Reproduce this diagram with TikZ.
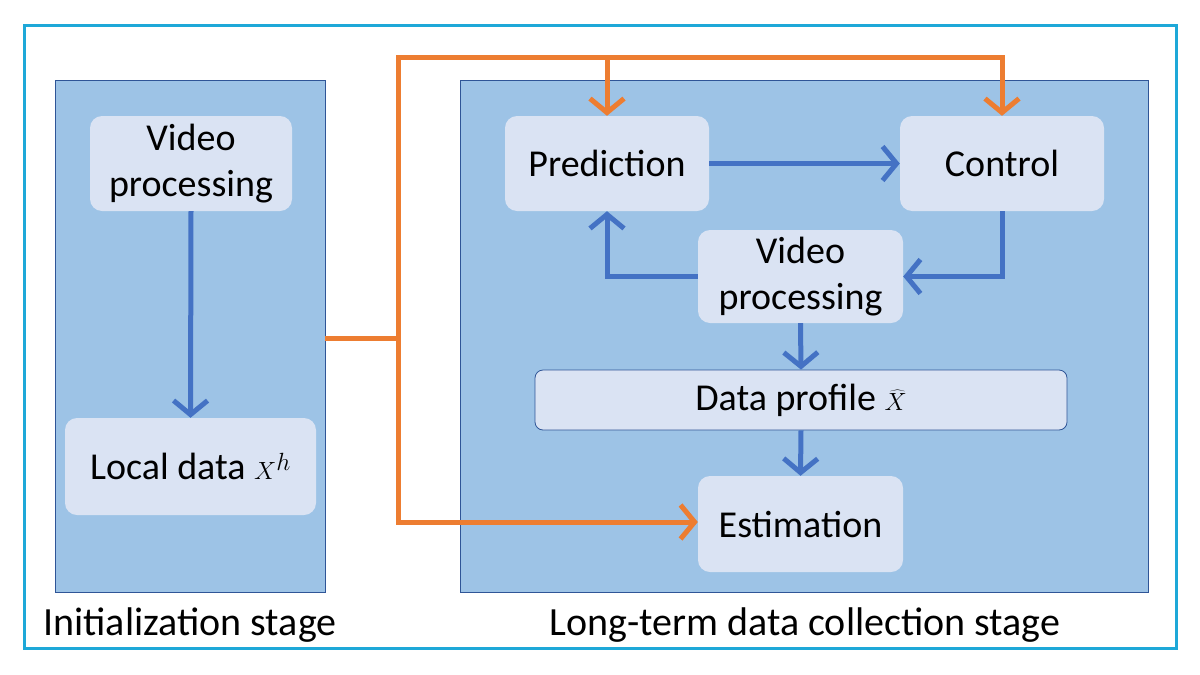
\documentclass[tikz,border=0pt]{standalone}
\usepackage{fontspec}
\setmainfont{Carlito}
\usetikzlibrary{arrows.meta}
\definecolor{frame}{HTML}{1EA8D8}
\definecolor{panel}{HTML}{9DC3E6}
\definecolor{pborder}{HTML}{2F5597}
\definecolor{boxf}{HTML}{DAE3F3}
\definecolor{blu}{HTML}{4472C4}
\definecolor{ora}{HTML}{ED7D31}
\tikzset{
 panelbox/.style={fill=panel,draw=pborder,line width=0.8pt},
 box/.style={fill=boxf,rounded corners=12pt,align=center,font=\fontsize{38}{46}\selectfont,inner sep=0pt},
 barrow/.style={draw=blu,line width=5pt,-{Straight Barb[length=14pt,width=34pt,line width=5pt]}},
 oarrow/.style={draw=ora,line width=5pt,-{Straight Barb[length=14pt,width=34pt,line width=5pt]}},
 oline/.style={draw=ora,line width=5pt},
 lab/.style={font=\fontsize{40}{46}\selectfont}
}
\begin{document}
\begin{tikzpicture}[x=1pt,y=-1pt]
\useasboundingbox (0,0) rectangle (1200,675);
\fill[white] (0,0) rectangle (1200,675);
\draw[frame,line width=3pt] (24,25) rectangle (1176,648);
\draw[panelbox] (55,80) rectangle (325,592);
\draw[panelbox] (460,80) rectangle (1148,592);
\node[box,minimum width=202pt,minimum height=95pt] (vl) at (191,163.5) {Video\\processing};
\node[box,minimum width=251pt,minimum height=97pt] (ld) at (190.5,466.5) {Local data $X^h$};
\node[box,minimum width=204pt,minimum height=95pt] (pr) at (607,163.5) {Prediction};
\node[box,minimum width=204pt,minimum height=95pt] (co) at (1002,163.5) {Control};
\node[box,minimum width=205pt,minimum height=93pt] (vr) at (800.5,276.5) {Video\\processing};
\node[box,rounded corners=8pt,draw=pborder,line width=0.8pt,minimum width=532pt,minimum height=60pt] (dp) at (801,400) {Data profile $\widehat{X}$\vphantom{Xp}};
\node[box,minimum width=205pt,minimum height=96pt] (es) at (800.5,524) {Estimation};
\node[lab] (l1) at (190,625) {Initialization stage};
\node[lab] (l2) at (805,625) {Long-term data collection stage};
% blue
\draw[barrow] (vl.south) -- (ld.north);
\draw[barrow] (pr.east) -- (co.west);
\draw[barrow] (co.south) |- (vr.east);
\draw[barrow] (vr.west) -| (pr.south);
\draw[barrow] (vr.south) -- (dp.north);
\draw[barrow] (dp.south) -- (es.north);
% orange
\coordinate (j) at (398,338);
\coordinate (t) at (398,57);
\coordinate (b) at (398,522);
\draw[oline] (325,338) -- (j);
\draw[oline,line cap=rect] (t) -- (b);
\draw[oline,line cap=rect] (t) -- (co.north |- t);
\draw[oarrow] (pr.north |- t) -- (pr.north);
\draw[oarrow] (co.north |- t) -- (co.north);
\draw[oarrow] (b) -- (es.west |- b);
\end{tikzpicture}
\end{document}
